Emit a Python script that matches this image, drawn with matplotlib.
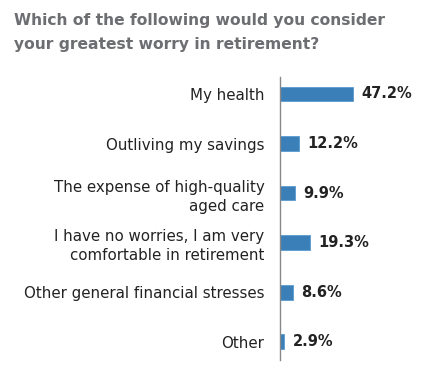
import matplotlib.pyplot as plt

categories = ["My health", "Outliving my savings", "The expense of high-quality\naged care",
              "I have no worries, I am very\ncomfortable in retirement",
              "Other general financial stresses", "Other"]
values = [47.2, 12.2, 9.9, 19.3, 8.6, 2.9]

plt.rcParams['font.family'] = ['DejaVu Sans']

fig = plt.figure(figsize=(4.46, 3.81), dpi=100)
ax = fig.add_axes([0.627, 0.055, 0.347, 0.743])

pos = list(range(len(categories)))
ax.barh(pos, values, height=0.3, color='#3a7fb8', edgecolor='#5b9bd0', linewidth=0.6)
ax.set_xlim(0, 100)
ax.set_ylim(5.37, -0.343)

for p, v in zip(pos, values):
    ax.text(v + 5.5, p, f"{v}%", va='center', ha='left', fontsize=10.5,
            fontweight='bold', color='#222222')

ax.set_yticks(pos)
ax.set_yticklabels(categories, fontsize=10.8, color='#222222', linespacing=1.35)
ax.tick_params(axis='y', length=0, pad=11)
ax.set_xticks([])
for s in ['top', 'right', 'bottom']:
    ax.spines[s].set_visible(False)
ax.spines['left'].set_color('#888888')
ax.spines['left'].set_linewidth(1)

fig.text(0.031, 0.965, "Which of the following would you consider\nyour greatest worry in retirement?",
         fontsize=11.2, fontweight='bold', color='#6d6e72', va='top', ha='left', linespacing=1.7)

fig.savefig("out.png", dpi=100)
